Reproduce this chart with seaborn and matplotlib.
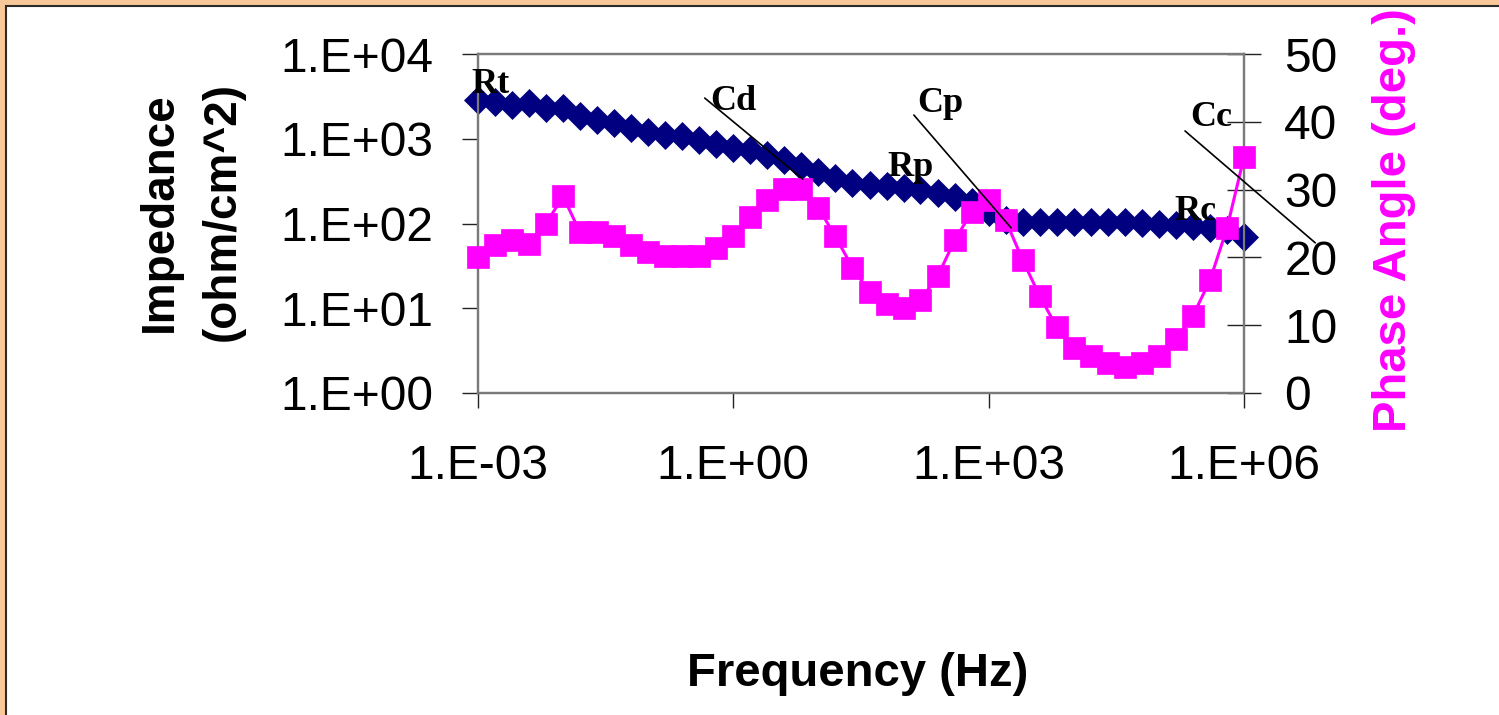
import numpy as np
import pandas as pd
import matplotlib
matplotlib.use("Agg")
import matplotlib.pyplot as plt
from matplotlib.patches import Rectangle
from matplotlib.ticker import FixedLocator, FuncFormatter, NullLocator
import seaborn as sns

sns.set_style("white")
plt.rcParams["font.family"] = ["Liberation Sans", "DejaVu Sans"]
plt.rcParams["text.color"] = "black"
plt.rcParams["axes.labelcolor"] = "black"
plt.rcParams["xtick.color"] = "black"
plt.rcParams["ytick.color"] = "black"

# ---------------- data ----------------
frequency_hz = [
    1.0e-3, 1.58e-3, 2.51e-3, 3.98e-3, 6.31e-3,
    1.0e-2, 1.58e-2, 2.51e-2, 3.98e-2, 6.31e-2,
    1.0e-1, 1.58e-1, 2.51e-1, 3.98e-1, 6.31e-1,
    1.0, 1.58, 2.51, 3.98, 6.31,
    10.0, 15.8, 25.1, 39.8, 63.1,
    100.0, 158.0, 251.0, 398.0, 631.0,
    1.0e3, 1.58e3, 2.51e3, 3.98e3, 6.31e3,
    1.0e4, 1.58e4, 2.51e4, 3.98e4, 6.31e4,
    1.0e5, 1.58e5, 2.51e5, 3.98e5, 6.31e5,
    1.0e6,
]
impedance = [
    2860, 2700, 2530, 2630, 2300, 2300, 1850, 1660, 1530, 1330,
    1200, 1100, 1070, 960, 860, 770, 730, 640, 560, 475,
    403, 343, 299, 283, 276, 261, 247, 228, 204, 178,
    136, 109, 104, 104, 104, 104, 104, 104, 104, 101,
    98, 95.5, 93, 88, 83, 69,
]
phase_angle = [
    20.1, 21.9, 22.5, 22.0, 25.0, 29.0, 23.7, 23.7, 23.1, 21.9,
    20.8, 20.2, 20.2, 20.2, 21.4, 23.1, 26.0, 28.4, 30.1, 30.1,
    27.3, 23.1, 18.5, 14.9, 13.2, 12.5, 13.7, 17.2, 22.5, 26.7,
    28.4, 25.5, 19.6, 14.3, 9.7, 6.7, 5.5, 4.4, 3.8, 4.4,
    5.5, 7.9, 11.4, 16.6, 24.3, 34.8,
]
x_ticks = [1e-3, 1e0, 1e3, 1e6]
y_left_ticks = [1e0, 1e1, 1e2, 1e3, 1e4]
y_right_ticks = [0, 10, 20, 30, 40, 50]

# annotation labels (text, text position, optional leader line) in axes fractions
annotations = [
    ("Rt", (0.016, 0.909), None),
    ("Cd", (0.333, 0.861), ((0.296, 0.870), (0.424, 0.631))),
    ("Cp", (0.604, 0.853), ((0.569, 0.820), (0.696, 0.487))),
    ("Rp", (0.564, 0.664), None),
    ("Cc", (0.957, 0.814), ((0.923, 0.773), (1.093, 0.443))),
    ("Rc", (0.936, 0.534), None),
]

df = pd.DataFrame({"freq": frequency_hz, "imp": impedance, "phase": phase_angle})

NAVY = "#000080"
MAGENTA = "#FF00FF"
W, H = 1499, 715

fig = plt.figure(figsize=(W / 100, H / 100), dpi=100)
fig.patch.set_facecolor("#F8C898")
fig.patches.append(Rectangle((6 / W, -0.05), 1.1, 1.05 - 6.5 / H,
                             transform=fig.transFigure, facecolor="white",
                             edgecolor="#2a2a2a", linewidth=1.5, zorder=-5))

ax = fig.add_axes([478 / W, 1 - 393 / H, 766 / W, 339 / H])
ax.set_xscale("log")
ax.set_yscale("log")

sns.lineplot(data=df, x="freq", y="imp", ax=ax, color=NAVY, linewidth=2,
             marker="D", markersize=14.5, markeredgecolor=NAVY,
             markeredgewidth=0.5, clip_on=False, zorder=3)

ax2 = ax.twinx()
sns.lineplot(data=df, x="freq", y="phase", ax=ax2, color=MAGENTA, linewidth=2.2,
             marker="s", markersize=16.5, markeredgecolor=MAGENTA,
             markeredgewidth=0.5, clip_on=False, zorder=3)

ax.set_xlim(1e-3, 1e6)
ax.set_ylim(1, 1e4)
ax2.set_ylim(0, 50)

fmt = FuncFormatter(lambda v, p: f"1.E{int(round(np.log10(v))):+03d}")
ax.xaxis.set_major_locator(FixedLocator(x_ticks))
ax.xaxis.set_minor_locator(NullLocator())
ax.xaxis.set_major_formatter(fmt)
ax.yaxis.set_major_locator(FixedLocator(y_left_ticks))
ax.yaxis.set_minor_locator(NullLocator())
ax.yaxis.set_major_formatter(fmt)
ax2.yaxis.set_major_locator(FixedLocator(y_right_ticks))

ax.tick_params(axis="x", which="major", direction="out", length=10.8, width=1,
               color="#222222", pad=26.0, labelsize=34.5, bottom=True, labelcolor="black")
ax.tick_params(axis="y", which="major", direction="out", length=11.5, width=1,
               color="#222222", pad=20.5, labelsize=34.5, left=True, labelcolor="black")
ax2.tick_params(axis="y", which="major", direction="inout", length=23.8, width=1,
                color="#222222", pad=17.0, labelsize=34.5, right=True, labelcolor="black")

for a in (ax, ax2):
    for s in a.spines.values():
        s.set_color("#7a7a7a")
        s.set_linewidth(1.6)
    a.grid(False)

ax.set_xlabel("Frequency (Hz)", fontsize=34, fontweight="bold", color="black")
ax.xaxis.set_label_coords(0.496, -0.765)
ax.set_ylabel("Impedance\n(ohm/cm^2)", fontsize=33, fontweight="bold", linespacing=1.55,
              color="black")
ax.yaxis.set_label_coords(-0.305, 0.534)
ax2.set_ylabel("Phase Angle (deg.)", fontsize=34, fontweight="bold", color=MAGENTA)
ax2.yaxis.set_label_coords(1.167, 0.51)

for text, pos, line in annotations:
    if line is not None:
        ax2.annotate("", xy=line[1], xytext=line[0], xycoords="axes fraction",
                     textcoords="axes fraction", annotation_clip=False,
                     arrowprops=dict(arrowstyle="-", color="black", lw=1.2,
                                     shrinkA=0, shrinkB=0), zorder=6)
    ax2.text(pos[0], pos[1], text, transform=ax2.transAxes, ha="center", va="center",
             fontsize=26, fontweight="bold", family=["Liberation Serif", "DejaVu Serif"],
             color="black", zorder=7, clip_on=False)

fig.savefig("out.png", dpi=100, facecolor=fig.get_facecolor())
